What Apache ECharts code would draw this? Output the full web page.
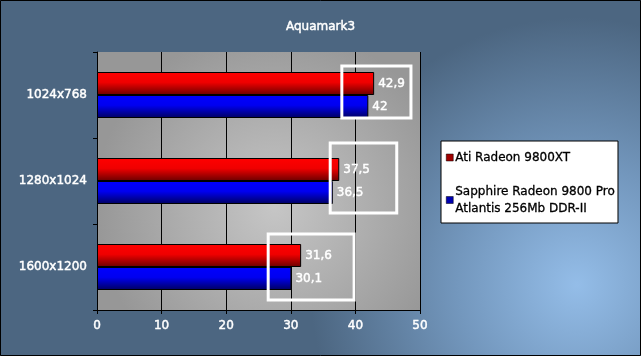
<!DOCTYPE html>
<html><head><meta charset="utf-8">
<script src="https://cdn.jsdelivr.net/npm/echarts@6/dist/echarts.min.js"></script>
<style>html,body{margin:0;padding:0;background:#4d6680}#c{width:641px;height:356px}</style>
</head><body><div id="c"></div>
<script>
const categories = ['1024x768', '1280x1024', '1600x1200'];
const seriesNames = ['Ati Radeon 9800XT', 'Sapphire Radeon 9800 Pro\nAtlantis 256Mb DDR-II'];
const atiValues = [42.9, 37.5, 31.6];
const sapphireValues = [42, 36.5, 30.1];
const xTicks = [0, 10, 20, 30, 40, 50];
// highlight boxes: value range on the x axis per category
const boxFrom = [37.9, 36.1, 26.5];
const boxTo = [48.6, 46.4, 39.8];

const font = 'DejaVu Sans';
const fs = 12;
const white = {color: '#fff', fontFamily: font, fontSize: fs, textBorderColor: '#fff', textBorderWidth: 0.45};
const chart = echarts.init(document.getElementById('c'));
function grad(top, mid, bottom) {
  return new echarts.graphic.LinearGradient(0, 0, 0, 1, [
    {offset: 0, color: top}, {offset: 0.45, color: mid}, {offset: 1, color: bottom}]);
}
const fmt = p => String(p.value).replace('.', ',');
chart.setOption({
  backgroundColor: {type: 'radial', x: 0.9, y: 0.8, r: 0.75, colorStops: [
    {offset: 0, color: '#94bde8'}, {offset: 0.45, color: '#7397bd'}, {offset: 1, color: '#4c6681'}]},
  animation: false,
  title: {text: 'Aquamark3', left: 'center', top: 16,
    textStyle: Object.assign({fontWeight: 'normal'}, white)},
  grid: {left: 97, right: 221, top: 52, bottom: 46, show: true, borderWidth: 0,
    backgroundColor: {type: 'radial', x: 0.55, y: 0.6, r: 0.7, colorStops: [
      {offset: 0, color: '#c6c6c6'}, {offset: 1, color: '#979797'}]}},
  legend: {orient: 'vertical', left: 441, top: 141,
    backgroundColor: '#fff', borderColor: '#000', borderWidth: 1,
    padding: [8, 3, 6, 5], itemGap: 17, itemWidth: 7, itemHeight: 7, icon: 'rect',
    textStyle: {color: '#000', fontFamily: font, fontSize: fs, padding: [0, 0, 0, -3], lineHeight: 17,
      textBorderColor: '#000', textBorderWidth: 0.3},
    data: [
      {name: seriesNames[0], itemStyle: {color: '#a00000', borderColor: '#000', borderWidth: 0.5}},
      {name: seriesNames[1], itemStyle: {color: '#0000b0', borderColor: '#000', borderWidth: 0.5}}]},
  xAxis: {type: 'value', min: 0, max: 50, interval: 10,
    axisLine: {show: true, lineStyle: {color: '#000'}},
    axisTick: {show: true, length: 4, lineStyle: {color: '#000'}},
    splitLine: {show: true, lineStyle: {color: '#000'}},
    axisLabel: Object.assign({margin: 10, formatter: v => xTicks.includes(v) ? String(v) : ''}, white)},
  yAxis: {type: 'category', data: categories, inverse: true,
    axisLine: {show: true, lineStyle: {color: '#000'}},
    axisTick: {show: true, length: 4, lineStyle: {color: '#000'}},
    axisLabel: Object.assign({margin: 10}, white)},
  series: [
    {name: seriesNames[0], type: 'bar', data: atiValues, barWidth: 23, barGap: '0%',
      itemStyle: {color: grad('#ff0000', '#f00000', '#6a0000'), borderColor: '#000', borderWidth: 1},
      label: Object.assign({show: true, position: 'right', distance: 4, formatter: fmt}, white)},
    {name: seriesNames[1], type: 'bar', data: sapphireValues, barWidth: 23, barGap: '0%',
      itemStyle: {color: grad('#0000ff', '#0000f0', '#000060'), borderColor: '#000', borderWidth: 1},
      label: Object.assign({show: true, position: 'right', distance: 4, formatter: fmt}, white)}
  ]
});
// draw highlight boxes and the outer frame
const halfH = [26, 35, 33];
const dy = [-3, -3, 0];
const gfx = categories.map((c, i) => {
  const x0 = chart.convertToPixel({xAxisIndex: 0}, boxFrom[i]);
  const x1 = chart.convertToPixel({xAxisIndex: 0}, boxTo[i]);
  const yc = chart.convertToPixel({yAxisIndex: 0}, c) + dy[i];
  return {type: 'rect', shape: {x: x0, y: yc - halfH[i], width: x1 - x0, height: 2 * halfH[i]},
    style: {fill: null, stroke: '#fff', lineWidth: 3}, z: 100};
});
gfx.push({type: 'rect', shape: {x: 0.5, y: 0.5, width: 640, height: 355},
  style: {fill: null, stroke: '#000', lineWidth: 1}, z: 100});
chart.setOption({graphic: gfx});
</script></body></html>
